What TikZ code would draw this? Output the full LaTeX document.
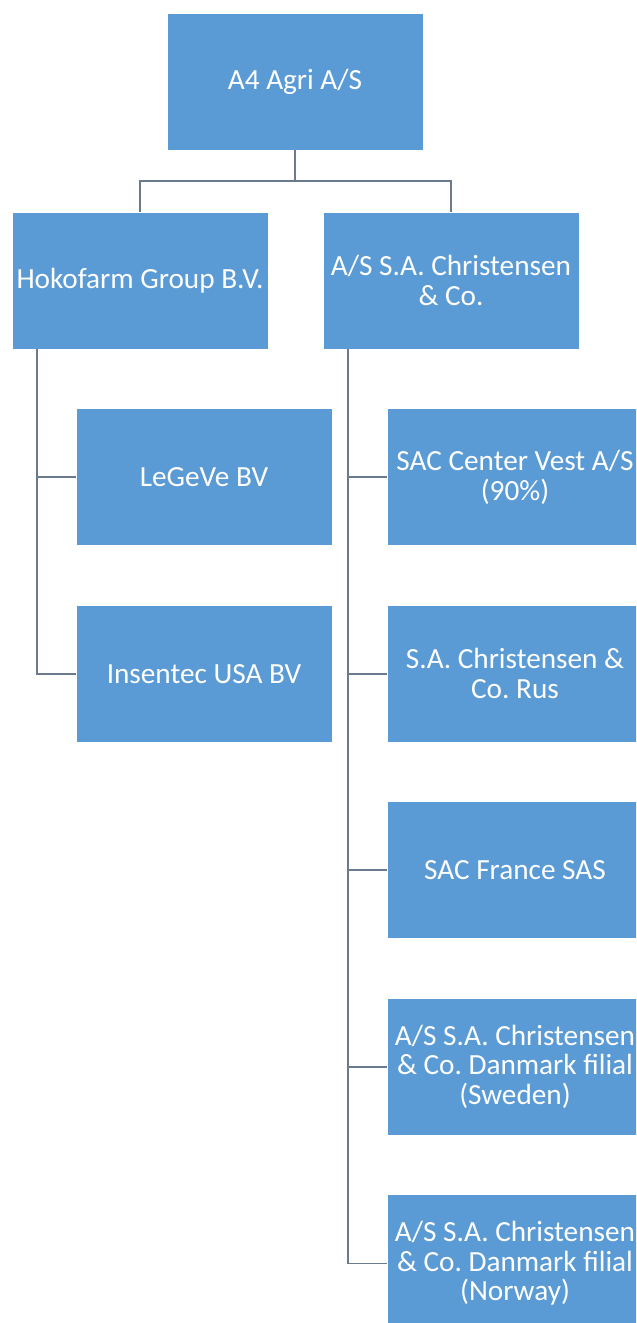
\documentclass[tikz,border=0pt]{standalone}
\usepackage{fontspec}
\setmainfont{Carlito}
\usepackage{tikz}
\usetikzlibrary{positioning,calc}

\definecolor{boxblue}{HTML}{5B9BD5}
\definecolor{linkgray}{HTML}{6B7A8F}

\begin{document}
\begin{tikzpicture}[
        node distance=1.5cm,
        unit/.style={rectangle, fill=boxblue, text=white, minimum width=6.375cm, minimum height=3.4cm, inner sep=1pt, align=center, font=\fontsize{20.8}{21.2}\selectfont\frenchspacing},
        link/.style={draw=linkgray, line width=1.2pt}
    ]
        % Rahmen
        \useasboundingbox (0,0) rectangle (15.9,-33.075);
        \clip (0,0) rectangle (15.9,-33.075);

        % Einheiten
        \node[unit] (agri) at (7.375,-2.05) {A4 Agri A/S};
        \node[unit, below=1.55cm of agri, xshift=-3.875cm] (hokofarm) {Hokofarm Group B.V.};
        \node[unit, below=1.55cm of agri, xshift=3.9cm] (christensen) {A/S S.A. Christensen\\\& Co.};

        % Hokofarm
        \node[unit, below=of hokofarm, xshift=1.6cm] (legeve) {LeGeVe BV};
        \node[unit, below=of legeve] (insentec) {Insentec USA BV};

        % Christensen
        \node[unit, below=of christensen, xshift=1.6cm] (vest) {SAC Center Vest A/S\\(90\%)};
        \node[unit, below=of vest] (rus) {S.A. Christensen \&\\Co. Rus};
        \node[unit, below=of rus] (france) {SAC France SAS};
        \node[unit, below=of france] (sweden) {A/S S.A. Christensen\\\& Co. Danmark filial\\(Sweden)};
        \node[unit, below=of sweden] (norway) {A/S S.A. Christensen\\\& Co. Danmark filial\\(Norway)};

        % Linien
        \draw[link] (agri.south) -- ++(0,-0.775) -| (hokofarm.north);
        \draw[link] (agri.south) -- ++(0,-0.775) -| (christensen.north);

        \coordinate (hokoroot) at ($(hokofarm.south west)+(0.62,0)$);
        \coordinate (chrisroot) at ($(christensen.south west)+(0.62,0)$);
        \foreach \sub in {legeve, insentec} {
            \draw[link] (hokoroot) |- (\sub.west);
        }
        \foreach \sub in {vest, rus, france, sweden, norway} {
            \draw[link] (chrisroot) |- (\sub.west);
        }
    \end{tikzpicture}
\end{document}
